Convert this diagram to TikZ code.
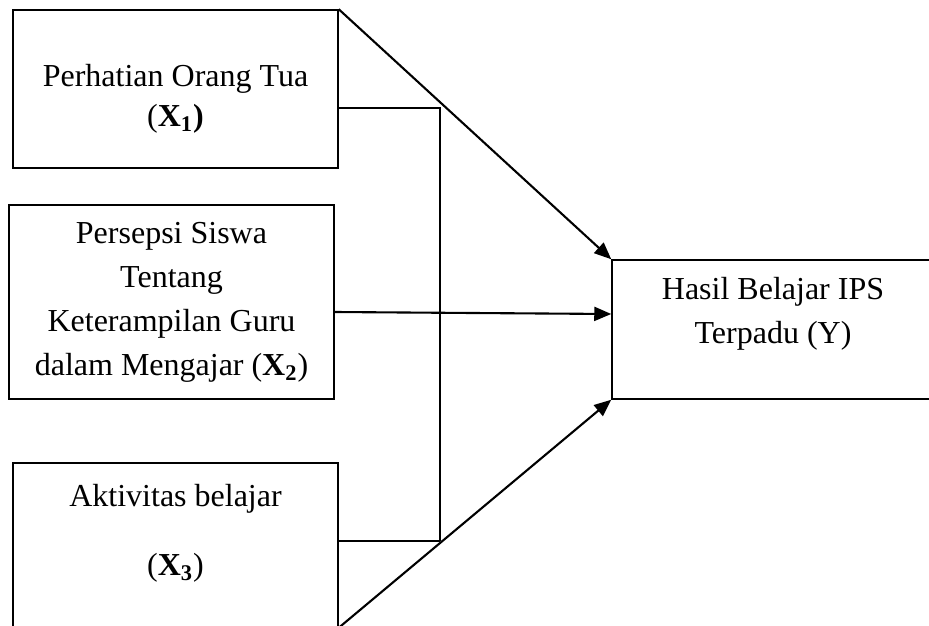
\documentclass[tikz,border=0pt]{standalone}
\usepackage{fontspec}
\setmainfont{Liberation Serif}
\usetikzlibrary{arrows.meta, calc}

\begin{document}
\begin{tikzpicture}[x=0.5pt, y=-0.5pt, >={Triangle[length=8.5pt, width=7pt]},
  font=\fontsize{16}{22}\selectfont,
  var/.style={draw, line width=0.75pt, align=center, minimum width=162.5pt, inner sep=0pt},
  hub/.style={line width=0.7pt},
  flow/.style={->, line width=1.05pt}]
  \useasboundingbox (0,0) rectangle (929,625);
  \clip (0,0) rectangle (929,625);
  \node[var, minimum height=79pt] (x1) at (175.5,89) {\mbox{}\\[-1pt]Perhatian Orang Tua\\[-2pt](\textbf{X\textsubscript{1})}};
  \node[var, minimum height=97pt] (x2) at (171.5,302) {Persepsi Siswa\\Tentang\\Keterampilan Guru\\dalam Mengajar (\textbf{X\textsubscript{2}})};
  \node[var, minimum height=82pt] (x3) at (175.5,545) {Aktivitas belajar\\[12.5pt](\textbf{X\textsubscript{3}})\\[-7pt]\mbox{}};
  \node[var, minimum width=161pt, minimum height=69.5pt] (y) at (773,329.5) {Hasil Belajar IPS\\Terpadu (Y)\\[-2.5pt]\mbox{}};
  \coordinate (j) at (440,541);
  \draw[hub] ([yshift=-9.5pt]x1.east) -| (j);
  \draw[hub] ([yshift=2pt]x3.east) -- (j);
  \draw[flow] (x1.north east) -- (y.north west);
  \draw[flow] ([yshift=-5pt]x2.east) -- ([yshift=7.75pt]y.west);
  \draw[flow] (x3.south east) -- (y.south west);
\end{tikzpicture}
\end{document}
